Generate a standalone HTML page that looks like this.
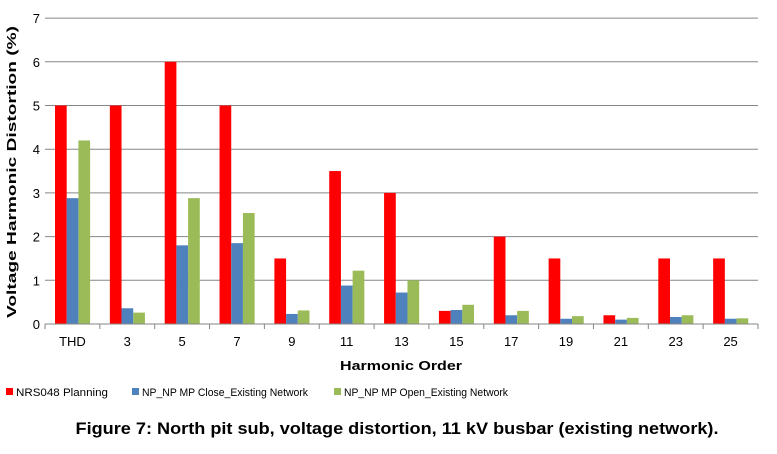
<!DOCTYPE html>
<html><head><meta charset="utf-8"><style>
body{margin:0;background:#fff;width:777px;height:449px;overflow:hidden}
svg text{font-family:"Liberation Sans",sans-serif}
</style></head><body>
<svg width="777" height="449">
<g id="grid"></g><g id="bars"></g><g id="axes"></g>
<text transform="translate(16,172) rotate(-90)" text-anchor="middle" font-size="13" font-weight="bold" fill="#000" textLength="292" lengthAdjust="spacingAndGlyphs">Voltage Harmonic Distortion (%)</text>
<text x="401" y="370" text-anchor="middle" font-size="13" font-weight="bold" textLength="122" lengthAdjust="spacingAndGlyphs">Harmonic Order</text>
<g font-size="11">
<rect x="6" y="388" width="7" height="7" fill="#ff0000"/><text x="16" y="396" textLength="92" lengthAdjust="spacingAndGlyphs">NRS048 Planning</text>
<rect x="132" y="388" width="7" height="7" fill="#4f81bd"/><text x="142" y="396" textLength="166" lengthAdjust="spacingAndGlyphs">NP_NP MP Close_Existing Network</text>
<rect x="334" y="388" width="7" height="7" fill="#9bbb59"/><text x="344" y="396" textLength="164" lengthAdjust="spacingAndGlyphs">NP_NP MP Open_Existing Network</text>
</g>
<text x="397" y="434" text-anchor="middle" font-size="17" font-weight="bold" textLength="643" lengthAdjust="spacingAndGlyphs">Figure 7: North pit sub, voltage distortion, 11 kV busbar (existing network).</text>
</svg>
<script>
const categories=["THD","3","5","7","9","11","13","15","17","19","21","23","25"];
const planning=[5,5,6,5,1.5,3.5,3,0.3,2,1.5,0.2,1.5,1.5];
const closeNet=[2.88,0.36,1.8,1.85,0.23,0.88,0.72,0.32,0.2,0.12,0.1,0.16,0.12];
const openNet=[4.2,0.26,2.88,2.54,0.31,1.22,1.0,0.44,0.3,0.18,0.14,0.2,0.13];
const yTicks=[0,1,2,3,4,5,6,7];
const NS="http://www.w3.org/2000/svg";
const X0=45,X1=758,Y0=324,UNIT=43.7;
const bw=(X1-X0)/categories.length;
const y=v=>Y0-v*UNIT;
const x=i=>X0+i*bw;
function mk(tag,attrs,parent){const e=document.createElementNS(NS,tag);for(const k in attrs)e.setAttribute(k,attrs[k]);parent.appendChild(e);return e;}
const grid=document.getElementById('grid'),bars=document.getElementById('bars'),axes=document.getElementById('axes');
yTicks.forEach(t=>{
  if(t>0){const l=mk('line',{x1:X0,x2:X1,y1:y(t),y2:y(t),stroke:'#868686','stroke-width':1},grid);
  
  }
  const tx=mk('text',{x:40,y:y(t)+5,'text-anchor':'end','font-size':13},axes);tx.textContent=t;
  
  
});
const series=[[planning,'#ff0000','planning'],[closeNet,'#4f81bd','close'],[openNet,'#9bbb59','open']];
const w=11.7,off=10;
categories.forEach((c,i)=>{
  series.forEach((s,j)=>{
    const r=mk('rect',{x:x(i)+off+j*w,y:y(s[0][i]),width:w,height:s[0][i]*UNIT,fill:s[1]},bars);
    
    
  });
  const tx=mk('text',{x:x(i)+bw/2,y:346,'text-anchor':'middle','font-size':13},axes);tx.textContent=c;
  
  
});
const ax=mk('line',{x1:X0,x2:X1,y1:Y0,y2:Y0,stroke:'#868686'},axes);


for(let i=0;i<=categories.length;i++){const t=mk('line',{x1:x(i),x2:x(i),y1:Y0,y2:Y0+5,stroke:'#868686'},axes);

}
</script>
</body></html>
